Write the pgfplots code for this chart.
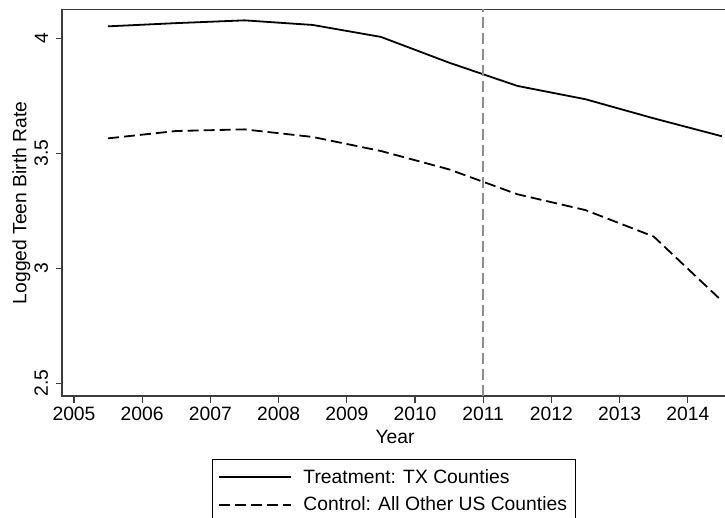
\documentclass[border=0pt]{standalone}
\usepackage{fontspec}
\setmainfont{Liberation Sans}
\usepackage{pgfplots}
\pgfplotsset{compat=1.18}
\definecolor{axgray}{HTML}{3C3C3C}
\definecolor{refgray}{HTML}{8C8C8C}
\newcommand{\fs}{\fontsize{19.3}{22}\selectfont}
\begin{document}
\begin{tikzpicture}[x=1pt,y=1pt]
\useasboundingbox (0,0) rectangle (725,-518);
\begin{scope}
\clip (0,0) rectangle (725,-518);
\begin{axis}[
  at={(62pt,-396pt)}, anchor=south west,
  scale only axis, width=666pt, height=386.5pt,
  xmin=2004.824, xmax=2014.589,
  ymin=2.4448, ymax=4.1252,
  xtick={2005,2006,...,2014},
  ytick={2.5,3,3.5,4},
  yticklabels={2.5,3,3.5,4},
  xtick pos=bottom, ytick pos=left,
  /pgf/number format/assume math mode=true,
  /pgf/number format/1000 sep={},
  tick align=outside,
  major tick length=6.5pt,
  tick style={axgray, line width=1.2pt},
  axis line style={axgray, line width=1.6pt},
  ticklabel style={font=\fs},
  xticklabel style={yshift=-1pt},
  yticklabel style={rotate=90, anchor=south, font=\fs},
  yticklabel shift=4pt,
  xlabel={Year}, ylabel={Logged Teen Birth Rate},
  label style={font=\fs},
  xlabel style={yshift=-3pt},
  ylabel style={yshift=-3pt},
  legend style={at={(0.2252,-0.163)}, anchor=north west, draw=black, line width=1pt,
    font=\fs, inner xsep=6pt, inner ysep=8pt, row sep=8pt,
    cells={anchor=west}},
  legend image code/.code={\draw[#1] (1pt,0pt) -- (73pt,0pt); \path[draw=none] (0pt,0pt) -- (83pt,0pt);},
]
\addplot[black, line width=1.8pt] coordinates {
(2005.5,4.052) (2006.5,4.066) (2007.5,4.078) (2008.5,4.058) (2009.5,4.006)
(2010.5,3.894) (2011.5,3.793) (2012.5,3.735) (2013.5,3.652) (2014.5,3.574)};
\addlegendentry{Treatment: TX Counties}
\addplot[black, line width=1.8pt, dash pattern=on 11pt off 5pt] coordinates {
(2005.5,3.565) (2006.5,3.597) (2007.5,3.604) (2008.5,3.571) (2009.5,3.510)
(2010.5,3.430) (2011.5,3.322) (2012.5,3.253) (2013.5,3.138) (2014.5,2.858)};
\addlegendentry{Control: All Other US Counties\hspace{8pt}}
\addplot[refgray, line width=1.8pt, dash pattern=on 11pt off 5pt, forget plot] coordinates {(2011,2.4448) (2011,4.1252)};
\end{axis}
\end{scope}
\end{tikzpicture}
\end{document}
